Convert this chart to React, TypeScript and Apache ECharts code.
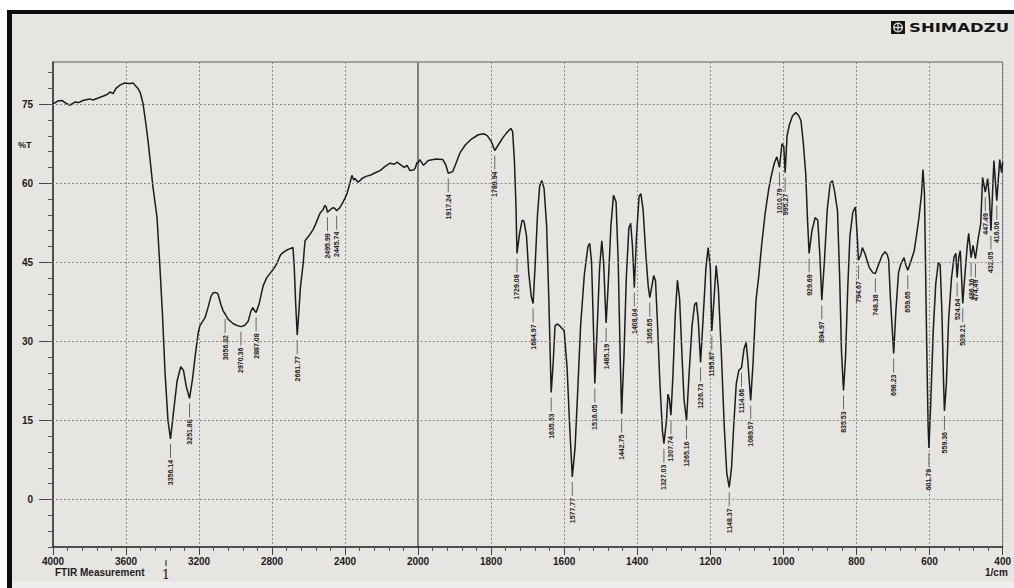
import { useEffect, useRef } from "react";
import * as echarts from "echarts";

// FTIR transmittance spectrum: wavenumber (1/cm, descending) and %T
const wavenumbers = [
  4000, 3975, 3951, 3930, 3907, 3880, 3860, 3836, 3800, 3780, 3742, 3720, 3700, 3688, 3670, 3655,
  3633, 3610, 3590, 3578, 3560, 3551, 3535, 3523, 3507, 3490, 3479, 3465, 3452, 3430, 3414, 3400,
  3386, 3370, 3356.14, 3340, 3320, 3300, 3285, 3270, 3251.88, 3235, 3220, 3205, 3195, 3180, 3167,
  3150, 3135, 3123, 3110, 3096, 3080, 3068, 3056.82, 3040, 3014, 2990, 2970.36, 2950, 2931, 2915,
  2905, 2895, 2887.08, 2870, 2849, 2830, 2811, 2790, 2773, 2755, 2745, 2720, 2701, 2685, 2678, 2670,
  2661.77, 2652, 2645, 2630, 2619, 2603, 2592, 2575, 2564, 2550, 2537, 2520, 2510, 2502, 2495.99,
  2480, 2465, 2455, 2445.74, 2430, 2411, 2389, 2375, 2362, 2352, 2345, 2329, 2315, 2307, 2285, 2263,
  2240, 2208, 2180, 2153, 2130, 2115, 2095, 2075, 2060, 2044, 2025, 2016, 2005, 2000,
  1995, 1985, 1972, 1950, 1932, 1924, 1917.24, 1905, 1895, 1885, 1870, 1855, 1835, 1820, 1810, 1800,
  1789.94, 1780, 1768, 1757, 1746, 1741, 1736, 1732, 1729.08, 1722, 1715, 1710, 1703, 1697, 1690,
  1684.97, 1679, 1673, 1667, 1661, 1655, 1648, 1642, 1638, 1635.53, 1630, 1625, 1618, 1610, 1600,
  1592, 1585, 1577.77, 1570, 1562, 1555, 1545, 1535, 1530, 1525, 1520, 1516.05, 1510, 1503, 1497,
  1492, 1488, 1485.19, 1480, 1472, 1465, 1458, 1452, 1447, 1442.75, 1436, 1430, 1423, 1418, 1413,
  1408.04, 1402, 1395, 1390, 1384, 1377, 1370, 1365.65, 1360, 1355, 1350, 1345, 1338, 1331, 1327.03,
  1320, 1316, 1312, 1307.74, 1302, 1296, 1290, 1284, 1278, 1272, 1265.16, 1258, 1250, 1243, 1238,
  1233, 1226.73, 1220, 1212, 1206, 1200, 1195.87, 1190, 1184, 1178, 1170, 1162, 1155, 1148.37, 1142,
  1136, 1129, 1122, 1114.66, 1108, 1102, 1097, 1089.57, 1083, 1075, 1068, 1060, 1050, 1040, 1034,
  1025, 1018, 1010.79, 1004, 999, 995.27, 990, 984, 975, 966, 958, 952, 946, 939, 934, 929.69, 922,
  913, 906, 900, 894.97, 888, 880, 872, 866, 860, 852, 846, 841, 835.53, 830, 824, 818, 810, 803,
  798, 794.67, 788, 784, 776, 765, 755, 748.38, 740, 730, 722, 716, 712, 707, 698.23, 692, 685, 679,
  670, 665, 659.65, 652, 642, 636, 629, 622, 618, 614, 608, 604, 601.79, 597, 590, 583, 576, 571,
  566, 562, 559.36, 554, 548, 540, 533, 528, 524.64, 520, 516, 513, 509.21, 504, 497, 493, 486.36,
  481, 478, 474.49, 468, 460, 455, 447.49, 441, 436, 432.05, 424, 416.06, 408, 403, 400,
];

const transmittance = [
  75.0, 75.6, 75.7, 75.2, 74.8, 75.4, 75.3, 75.7, 76.0, 75.8, 76.3, 76.6, 76.9, 77.3, 77.0, 78.0,
  78.6, 79.0, 78.9, 78.9, 79.0, 78.6, 78.0, 77.3, 75.2, 71.0, 68.0, 63.5, 59.2, 53.5, 44.0, 35.0,
  24.0, 15.0, 11.5, 16.5, 22.5, 25.2, 24.5, 21.5, 19.2, 23.0, 27.5, 31.5, 33.0, 33.8, 34.5,
  36.5, 38.5, 39.2, 39.3, 39.0, 37.0, 35.8, 35.2, 34.2, 33.4, 33.0, 32.8, 33.0, 33.8, 35.8,
  36.4, 35.8, 35.5, 37.2, 40.5, 42.0, 42.9, 43.8, 44.8, 46.3, 46.7, 47.3, 47.6, 47.8, 44.0, 37.0,
  31.2, 36.0, 40.0, 44.5, 49.1, 49.8, 50.3, 51.2, 52.0, 53.2, 54.3, 55.0, 55.8, 55.4, 54.5,
  55.0, 55.4, 55.2, 54.8, 55.3, 56.4, 58.0, 59.8, 61.5, 60.6, 60.9, 60.2, 60.6, 60.9, 61.3, 61.5,
  61.9, 62.4, 63.2, 63.8, 63.6, 64.0, 63.5, 63.0, 63.4, 62.4, 62.5, 62.8, 64.0, 63.8,
  64.5, 63.4, 64.3, 64.6, 64.5, 63.5, 61.9, 62.2, 64.0, 65.8, 67.3, 68.3, 69.2, 69.4, 69.0, 68.0,
  66.2, 67.3, 68.6, 69.6, 70.4, 69.8, 64.0, 56.0, 46.7, 50.5, 53.0, 52.8, 50.0, 43.0, 38.5,
  37.2, 45.0, 54.0, 59.5, 60.5, 59.0, 52.0, 38.0, 27.0, 20.3, 26.0, 33.0, 33.3, 32.8, 32.0,
  25.0, 14.0, 4.3, 10.0, 22.0, 33.0, 42.5, 48.0, 48.6, 45.0, 33.0, 22.0, 32.0, 44.0, 49.1,
  45.0, 38.0, 33.5, 40.0, 52.0, 57.7, 56.5, 45.0, 28.0, 16.3, 28.0, 42.0, 51.5, 52.4, 48.0,
  40.2, 50.0, 57.5, 58.0, 55.0, 47.0, 40.5, 38.3, 40.5, 42.5, 41.5, 34.0, 22.0, 13.0, 10.6,
  15.0, 20.0, 19.0, 16.0, 24.0, 35.0, 41.6, 38.0, 28.0, 19.0, 15.0, 24.0, 33.0, 37.0, 37.4,
  34.0, 26.0, 34.0, 44.0, 47.8, 44.0, 32.0, 38.0, 44.4, 40.0, 28.0, 14.0, 5.0, 2.3, 6.0,
  14.0, 22.0, 24.5, 25.0, 28.5, 29.8, 26.0, 18.8, 26.0, 37.8, 42.0, 48.0, 54.3, 59.0, 61.1,
  63.8, 65.0, 63.0, 67.5, 67.0, 62.0, 69.0, 71.0, 72.8, 73.4, 72.8, 71.9, 68.0, 61.9, 53.0, 46.7, 51.0,
  53.5, 53.0, 46.0, 37.8, 45.0, 55.0, 60.0, 60.5, 58.5, 54.8, 42.0, 28.0, 20.7, 27.0, 40.0, 50.0, 54.5, 55.5,
  50.0, 45.4, 46.5, 47.8, 46.5, 44.0, 43.0, 42.9, 44.5, 46.3, 47.0, 46.5, 45.5, 38.0, 27.7, 36.0, 43.0, 44.6,
  45.9, 44.5, 43.5, 45.0, 47.2, 50.0, 53.5, 58.0, 62.6, 58.0, 30.0, 14.0, 9.8, 18.0, 32.0, 41.0, 45.0, 44.5,
  35.0, 23.0, 16.8, 22.0, 34.0, 42.0, 46.0, 46.7, 42.1, 46.0, 47.2, 43.0, 37.2, 42.0, 48.0, 50.5, 45.9,
  48.2, 47.0, 45.7, 49.0, 52.4, 61.1, 58.3, 60.9, 57.0, 51.0, 64.3, 56.7, 64.5, 62.0, 64.0,
];

// Wavenumbers marked with a peak label
const peakWavenumbers = [
  3356.14, 3251.88, 3056.82, 2970.36, 2887.08, 2661.77, 2495.99, 2445.74,
  1917.24, 1789.94, 1729.08, 1684.97, 1635.53, 1577.77, 1516.05, 1485.19, 1442.75, 1408.04,
  1365.65, 1327.03, 1307.74, 1265.16, 1226.73, 1195.87, 1148.37, 1114.66, 1089.57, 1010.79,
  995.27, 929.69, 894.97, 835.53, 794.67, 748.38, 698.23, 659.65, 601.79, 559.36, 524.64,
  509.21, 486.36, 474.49, 447.49, 432.05, 416.06,
];

const yMajorTicks = [0, 15, 30, 45, 60, 75];
const yMinorTicks = [
  -9, -6, -3, 0, 3, 6, 9, 12, 15, 18, 21, 24, 27, 30, 33, 36, 39, 42, 45, 48, 51, 54, 57, 60,
  63, 66, 69, 72, 75, 78, 81,
];

const INK = "#1c1c1c";
const FONT = "Liberation Sans";
const Y_MIN = -9;
const Y_MAX = 83;

const spectrum = wavenumbers.map((w, i) => [w, transmittance[i]]);
const highRange = spectrum.filter((p) => p[0] >= 2000);
const lowRange = spectrum.filter((p) => p[0] <= 2000);
const peaks = peakWavenumbers.map((w) => [w, transmittance[wavenumbers.indexOf(w)]]);
const highPeaks = peaks.filter((p) => p[0] > 2000);
const lowPeaks = peaks.filter((p) => p[0] < 2000);

const gridLines = {
  silent: true,
  symbol: "none",
  label: { show: false },
  lineStyle: { type: [2, 2], color: "#8c8c8c", width: 1 },
  data: yMajorTicks.map((v) => ({ yAxis: v })),
};

function renderPeakLabel(_params: any, api: any) {
  const w = api.value(0);
  const pt = api.coord([w, api.value(1)]);
  return {
    type: "group",
    children: [
      {
        type: "line",
        shape: { x1: pt[0], y1: pt[1] + 5, x2: pt[0], y2: pt[1] + 19 },
        style: { stroke: "#666", lineWidth: 1 },
      },
      {
        type: "text",
        x: pt[0],
        y: pt[1] + 21,
        rotation: Math.PI / 2,
        style: {
          text: Number(w).toFixed(2),
          align: "right",
          verticalAlign: "middle",
          fontSize: 7,
          fontWeight: "bold",
          fontFamily: FONT,
          fill: INK,
        },
      },
    ],
  };
}

function xAxisFor(gridIndex: number, min: number, max: number, interval: number, hide2000: boolean) {
  return {
    type: "value",
    gridIndex,
    min,
    max,
    interval,
    inverse: true,
    axisLine: { show: true, onZero: false, lineStyle: { color: "#333", width: 1.5 } },
    axisTick: { show: true, length: 8, lineStyle: { color: "#444" } },
    minorTick: { show: true, splitNumber: 5, length: 4, lineStyle: { color: "#555" } },
    splitLine: { show: true, lineStyle: { type: [2, 2], color: "#8c8c8c" } },
    axisLabel: {
      show: true,
      margin: 9,
      fontSize: 10,
      fontWeight: "bold",
      fontFamily: FONT,
      color: INK,
      showMinLabel: true,
      showMaxLabel: true,
      formatter: (v: number) => (hide2000 && v === 2000 ? "" : String(v)),
    },
  };
}

export default function App() {
  const ref = useRef<HTMLDivElement>(null);

  useEffect(() => {
    if (!ref.current) return;
    const chart = echarts.init(ref.current, null, { renderer: "svg" });
    chart.setOption({
      animation: false,
      backgroundColor: "#ffffff",
      textStyle: { fontFamily: FONT },
      grid: [
        { left: 53, top: 62, width: 365, height: 485, show: true, borderColor: "#5a5a5a", borderWidth: 1 },
        { left: 418, top: 62, width: 590, height: 485, show: true, borderColor: "#5a5a5a", borderWidth: 1 },
      ],
      xAxis: [xAxisFor(0, 2000, 4000, 400, false), xAxisFor(1, 400, 2000, 200, true)],
      yAxis: [
        {
          type: "value",
          gridIndex: 0,
          min: Y_MIN,
          max: Y_MAX,
          axisLine: { show: true, lineStyle: { color: "#333", width: 1.5 } },
          axisTick: { show: true, length: 14, customValues: yMajorTicks, lineStyle: { color: "#444" } },
          axisLabel: {
            show: true,
            margin: 20,
            fontSize: 10,
            fontWeight: "bold",
            fontFamily: FONT,
            color: INK,
            customValues: yMajorTicks,
          },
          splitLine: { show: false },
        },
        {
          type: "value",
          gridIndex: 0,
          position: "left",
          min: Y_MIN,
          max: Y_MAX,
          axisLine: { show: false },
          axisTick: { show: true, length: 5, customValues: yMinorTicks, lineStyle: { color: "#555" } },
          axisLabel: { show: false },
          splitLine: { show: false },
        },
        {
          type: "value",
          gridIndex: 1,
          min: Y_MIN,
          max: Y_MAX,
          show: false,
          splitLine: { show: false },
        },
      ],
      series: [
        {
          type: "line",
          xAxisIndex: 0,
          yAxisIndex: 0,
          data: highRange,
          showSymbol: false,
          symbol: "none",
          lineStyle: { color: INK, width: 1.5 },
          markLine: gridLines,
          z: 3,
        },
        {
          type: "line",
          xAxisIndex: 1,
          yAxisIndex: 2,
          data: lowRange,
          showSymbol: false,
          symbol: "none",
          lineStyle: { color: INK, width: 1.5 },
          markLine: gridLines,
          z: 3,
        },
        {
          type: "custom",
          xAxisIndex: 0,
          yAxisIndex: 0,
          data: highPeaks,
          renderItem: renderPeakLabel,
          clip: false,
          z: 4,
        },
        {
          type: "custom",
          xAxisIndex: 1,
          yAxisIndex: 2,
          data: lowPeaks,
          renderItem: renderPeakLabel,
          clip: false,
          z: 4,
        },
      ],
      graphic: [
        { type: "rect", z: -100, shape: { x: 12, y: 14, width: 1002, height: 568 }, style: { fill: "#e7e5e1" } },
        { type: "rect", z: -99, shape: { x: 12, y: 582, width: 1002, height: 6 }, style: { fill: "#efeeec" } },
        { type: "rect", z: -98, shape: { x: 7, y: 10, width: 1007, height: 4 }, style: { fill: "#0d0d0d" } },
        { type: "rect", z: -98, shape: { x: 7, y: 10, width: 5, height: 578 }, style: { fill: "#0d0d0d" } },
        // maker mark
        { type: "rect", z: 50, shape: { x: 891, y: 21, width: 14, height: 13 }, style: { fill: "#151515" } },
        { type: "circle", z: 51, shape: { cx: 898, cy: 27.5, r: 4.3 }, style: { fill: "none", stroke: "#e7e5e1", lineWidth: 1.3 } },
        { type: "line", z: 51, shape: { x1: 898, y1: 23.5, x2: 898, y2: 31.5 }, style: { stroke: "#e7e5e1", lineWidth: 1.2 } },
        { type: "line", z: 51, shape: { x1: 894, y1: 27.5, x2: 902, y2: 27.5 }, style: { stroke: "#e7e5e1", lineWidth: 1.2 } },
        {
          type: "text",
          z: 50,
          x: 909,
          y: 28,
          scaleX: 1.27,
          style: { text: "SHIMADZU", fontSize: 13, fontWeight: "bold", fontFamily: "DejaVu Sans", fill: "#151515", verticalAlign: "middle" },
        },
        {
          type: "text",
          z: 50,
          x: 18,
          y: 145,
          style: { text: "%T", fontSize: 9, fontWeight: "bold", fontFamily: FONT, fill: INK, verticalAlign: "middle" },
        },
        {
          type: "text",
          z: 50,
          x: 55,
          y: 572,
          style: { text: "FTIR Measurement", fontSize: 10, fontWeight: "bold", fontFamily: FONT, fill: INK, verticalAlign: "middle" },
        },
        { type: "line", z: 50, shape: { x1: 166, y1: 560, x2: 166, y2: 566 }, style: { stroke: INK, lineWidth: 1 } },
        {
          type: "text",
          z: 50,
          x: 166,
          y: 574,
          style: { text: "1", fontSize: 13, fontFamily: "DejaVu Serif", fill: INK, align: "center", verticalAlign: "middle" },
        },
        {
          type: "text",
          z: 50,
          x: 985,
          y: 572,
          style: { text: "1/cm", fontSize: 10, fontWeight: "bold", fontFamily: FONT, fill: INK, verticalAlign: "middle" },
        },
      ],
    });
    return () => chart.dispose();
  }, []);

  return (
    <div
      ref={ref}
      style={{ position: "fixed", left: 0, top: 0, width: 1014, height: 588 }}
    />
  );
}
